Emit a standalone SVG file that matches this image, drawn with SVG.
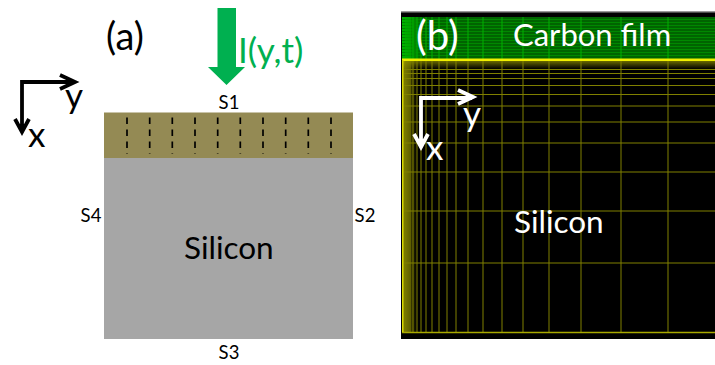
<svg xmlns="http://www.w3.org/2000/svg" width="715" height="365" viewBox="0 0 715 365">
<style>
text{font-family:"Lato","Open Sans","Liberation Sans",sans-serif}
.k{fill:#000}.w{fill:#fff}.g{fill:#00b050}
.s{font-size:18.500px;text-anchor:middle}
.ax{fill:none;stroke-width:3.800}
</style>
<defs>
<linearGradient id="fadeX" x1="0" x2="1" y1="0" y2="0"><stop offset="0" stop-color="#a8a800" stop-opacity=".85"/><stop offset="1" stop-color="#a8a800" stop-opacity="0"/></linearGradient>
<linearGradient id="fadeY" x1="0" x2="0" y1="0" y2="1"><stop offset="0" stop-color="#a8a800" stop-opacity=".7"/><stop offset="1" stop-color="#a8a800" stop-opacity="0"/></linearGradient>
<linearGradient id="fadeG" x1="0" x2="1" y1="0" y2="0"><stop offset="0" stop-color="#00c000" stop-opacity=".9"/><stop offset="1" stop-color="#00c000" stop-opacity="0"/></linearGradient>
</defs>
<g id="panel-a">
<rect x="104" y="112.500" width="249" height="46" fill="#948a54"/>
<rect x="104" y="158" width="249" height="181" fill="#a6a6a6"/>
<path d="M127 117.500V154M149.700 117.500V154M172.300 117.500V154M195 117.500V154M217.700 117.500V154M240.300 117.500V154M263 117.500V154M285.700 117.500V154M308.300 117.500V154M331 117.500V154" stroke="#000" stroke-width="1.700" stroke-dasharray="6.500 5.500" fill="none"/>
<text x="106" y="50" font-size="38" class="k">(a)</text>
<text x="184" y="259" font-size="31.500" class="k">Silicon</text>
</g>
<g id="beam">
<path d="M217.500 8H236V67H245L226.500 85L208 67H217.500Z" class="g"/>
<text x="238" y="63" font-size="35" class="g">I(y,t)</text>
</g>
<g id="labels">
<text x="229" y="109" class="s k">S1</text>
<text x="365" y="222" class="s k">S2</text>
<text x="229" y="359" class="s k">S3</text>
<text x="91" y="222" class="s k">S4</text>
</g>
<g id="axes-a">
<path d="M22 131V82H74M60 75L75 82L60 89M15 119L22 132L29 119" class="ax" stroke="#000"/>
<text x="65" y="108" font-size="35" class="k">y</text>
<text x="28" y="147" font-size="35" class="k">x</text>
</g>
<g id="panel-b">
<rect x="401" y="12" width="314" height="327" fill="#000"/>
<rect x="401" y="11" width="314" height="1.500" fill="#999"/>
<rect x="402" y="17" width="313" height="42" fill="#006400"/>
<rect x="402" y="17" width="22" height="42" fill="url(#fadeG)"/>
<path d="M402 19.500H715M402 22.500H715M402 25.500H715M402 28.500H715M402 31.500H715M402 34.500H715M402 37.500H715M402 40.500H715M402 43.500H715M402 46.500H715M402 49.500H715M402 52.500H715M402 55.500H715" stroke="#008800" stroke-width="1" fill="none"/>
<path d="M406 17V59M408 17V59M410 17V59M413 17V59M417 17V59M421 17V59M426 17V59M432 17V59M439 17V59M447 17V59M456 17V59M468 17V59M483 17V59M502 17V59M523 17V59M549 17V59M581 17V59M621 17V59M668 17V59" stroke="#00b000" stroke-width="1" fill="none"/>
<rect x="402" y="60" width="313" height="9" fill="url(#fadeY)"/>
<rect x="402" y="60" width="15" height="272" fill="url(#fadeX)"/>
<path d="M402 69.500H715M402 73.500H715M402 78.500H715M402 85.500H715M402 94.500H715M402 106H715M402 122H715M402 143H715M402 172H715M402 211H715M402 263H715" stroke="#808000" stroke-width="1" fill="none"/>
<path d="M406 60V332M408 60V332M410 60V332M413 60V332M417 60V332M421 60V332M426 60V332M432 60V332M439 60V332M447 60V332M456 60V332M468 60V332M483 60V332M502 60V332M523 60V332M549 60V332M581 60V332M621 60V332M668 60V332" stroke="#808000" stroke-width="1" fill="none"/>
<rect x="402" y="58.500" width="313" height="2.500" fill="#f0f000"/>
<path d="M402 332.500H715" stroke="#a8a800" stroke-width="1.500"/>
<rect x="402" y="60" width="1.500" height="272" fill="#d8d800"/>
<text x="416" y="50" font-size="40" class="w">(b)</text>
<text x="513" y="46" font-size="31" class="w">Carbon film</text>
<text x="514" y="233" font-size="31.500" class="w">Silicon</text>
</g>
<g id="axes-b">
<path d="M421 146V98H472M458 90L473 97L458 104M414 134L421 147L428 134" class="ax" stroke="#fff"/>
<text x="463" y="126" font-size="35" class="w">y</text>
<text x="426" y="160" font-size="35" class="w">x</text>
</g>
</svg>
